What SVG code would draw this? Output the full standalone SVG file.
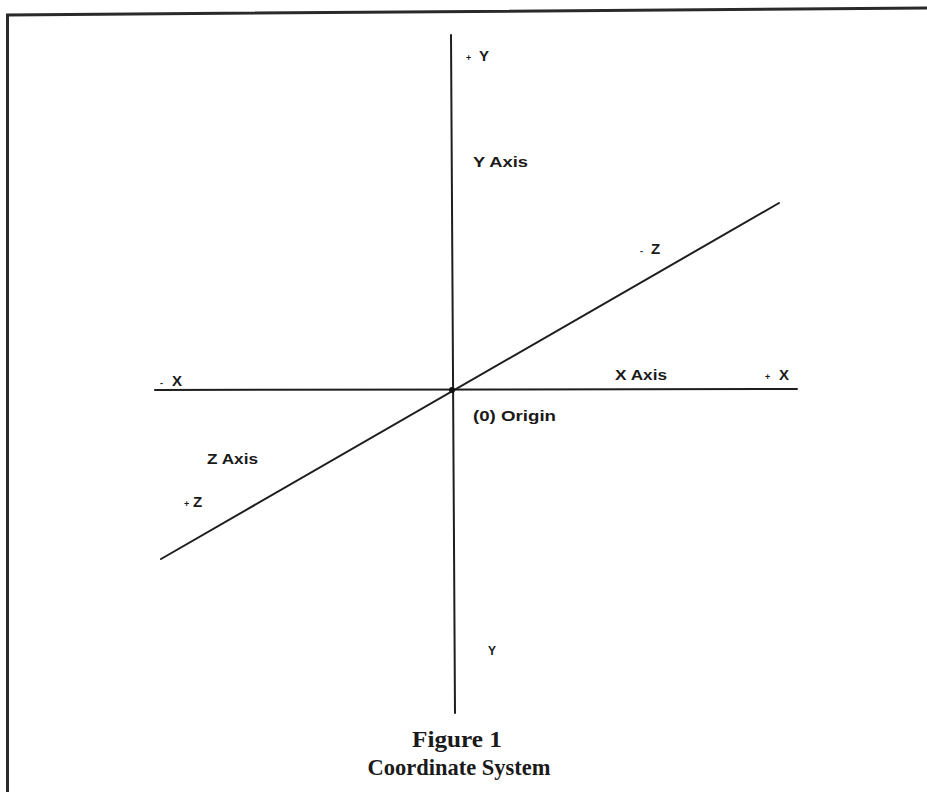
<svg xmlns="http://www.w3.org/2000/svg" width="927" height="792" viewBox="0 0 927 792">
  <style>
    .frame { fill: none; stroke: #2a2a2a; stroke-width: 3; }
    .axis { fill: none; stroke: #1e1e1e; stroke-width: 2; stroke-linecap: round; }
    .lbl { font-family: "Liberation Sans", Arial, sans-serif; font-weight: bold; font-size: 15px; fill: #1a1a1a; }
    .sgn { font-size: 9px; }
    .cap { font-family: "Liberation Serif", "Times New Roman", serif; font-weight: bold; font-size: 23px; fill: #1a1a1a; }
  </style>
  <rect x="0" y="0" width="927" height="792" fill="#ffffff"/>
  <path class="frame" d="M7.5,792 L7.5,15 L927,8"/>
  <g id="connectors">
    <line id="y-axis" class="axis" x1="451" y1="35" x2="455" y2="713"/>
    <line id="x-axis" class="axis" x1="155" y1="390" x2="797" y2="389"/>
    <line id="z-axis" class="axis" x1="161" y1="559" x2="779" y2="203"/>
  </g>
  <g id="origin">
    <circle cx="452" cy="390" r="3" fill="#111"/>
    <text class="lbl" x="473" y="421" textLength="83" lengthAdjust="spacingAndGlyphs">(0) Origin</text>
  </g>
  <g id="plus-y"><text class="lbl" y="61"><tspan class="sgn" x="466">+</tspan><tspan x="479">Y</tspan></text></g>
  <g id="y-axis-label"><text class="lbl" x="473" y="167" textLength="55" lengthAdjust="spacingAndGlyphs">Y Axis</text></g>
  <g id="minus-z"><text class="lbl" y="254"><tspan class="sgn" x="640">-</tspan><tspan x="651">Z</tspan></text></g>
  <g id="x-axis-label"><text class="lbl" x="615" y="380" textLength="52" lengthAdjust="spacingAndGlyphs">X Axis</text></g>
  <g id="plus-x"><text class="lbl" y="380"><tspan class="sgn" x="765">+</tspan><tspan x="779">X</tspan></text></g>
  <g id="minus-x"><text class="lbl" y="386"><tspan class="sgn" x="160">-</tspan><tspan x="172">X</tspan></text></g>
  <g id="z-axis-label"><text class="lbl" x="207" y="464" textLength="51" lengthAdjust="spacingAndGlyphs">Z Axis</text></g>
  <g id="plus-z"><text class="lbl" y="507"><tspan class="sgn" x="184">+</tspan><tspan x="193">Z</tspan></text></g>
  <g id="minus-y"><text class="lbl" x="488" y="655" style="font-size:12px">Y</text></g>
  <g id="caption">
    <text class="cap" x="457" y="747" text-anchor="middle" textLength="90" lengthAdjust="spacingAndGlyphs">Figure 1</text>
    <text class="cap" x="459" y="775" text-anchor="middle" textLength="183" lengthAdjust="spacingAndGlyphs">Coordinate System</text>
  </g>
</svg>
